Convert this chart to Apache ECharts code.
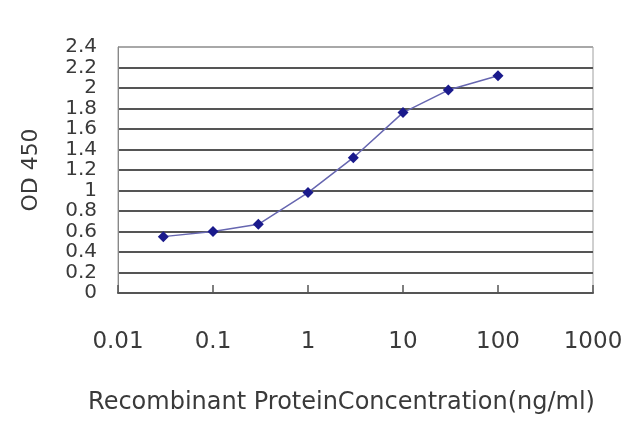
<!DOCTYPE html>
<html>
<head>
<meta charset="utf-8">
<script src="https://cdn.jsdelivr.net/npm/echarts@6/dist/echarts.min.js"></script>
<style>html,body{margin:0;padding:0;background:#fff}#c{width:640px;height:427px}</style>
</head>
<body>
<div id="c"></div>
<script>
const concentrations = [0.03, 0.1, 0.3, 1, 3, 10, 30, 100];
const od450 = [0.55, 0.6, 0.67, 0.98, 1.32, 1.76, 1.98, 2.12];
const xTickLabels = ['0.01', '0.1', '1', '10', '100', '1000'];
const xTitle = 'Recombinant ProteinConcentration(ng/ml)';
const yTitle = 'OD 450';

const chart = echarts.init(document.getElementById('c'));
const font = 'DejaVu Sans';
const gridColors = [];
for (let i = 0; i < 12; i++) gridColors.push('#555');
gridColors.push('#a8a8a8');
chart.setOption({
  animation: false,
  grid: { left: 118, right: 47, top: 47, bottom: 134, show: true, borderColor: '#a0a0a0', borderWidth: 1, backgroundColor: 'transparent' },
  xAxis: {
    type: 'log', logBase: 10, min: 0.01, max: 1000,
    axisLine: { show: true, lineStyle: { color: '#555', width: 2 } },
    axisTick: { show: true, inside: true, length: 8, lineStyle: { color: '#555', width: 1.5 } },
    splitLine: { show: false },
    minorTick: { show: false },
    axisLabel: {
      margin: 38, fontFamily: font, fontSize: 23, color: '#3a3a3a',
      formatter: function (v) {
        const e = Math.round(Math.log10(v));
        return xTickLabels[e + 2];
      }
    },
    name: xTitle, nameLocation: 'middle', nameGap: 98,
    nameTextStyle: { fontFamily: font, fontSize: 24, color: '#3a3a3a', padding: [0, 28, 0, 0] }
  },
  yAxis: {
    type: 'value', min: 0, max: 2.4, interval: 0.2,
    axisLine: { show: true, lineStyle: { color: '#888', width: 1 } },
    axisTick: { show: false },
    splitLine: { show: true, lineStyle: { color: gridColors, width: 2 } },
    axisLabel: { margin: 21, fontFamily: font, fontSize: 20, color: '#3a3a3a' },
    name: yTitle, nameLocation: 'middle', nameGap: 76, nameRotate: 90,
    nameTextStyle: { fontFamily: font, fontSize: 22, color: '#3a3a3a' }
  },
  series: [{
    type: 'line',
    data: concentrations.map((c, i) => [c, od450[i]]),
    symbol: 'diamond', symbolSize: 11,
    itemStyle: { color: '#1a1a8c' },
    lineStyle: { color: '#6666b0', width: 1.5 },
    z: 5
  }]
});
</script>
</body>
</html>
